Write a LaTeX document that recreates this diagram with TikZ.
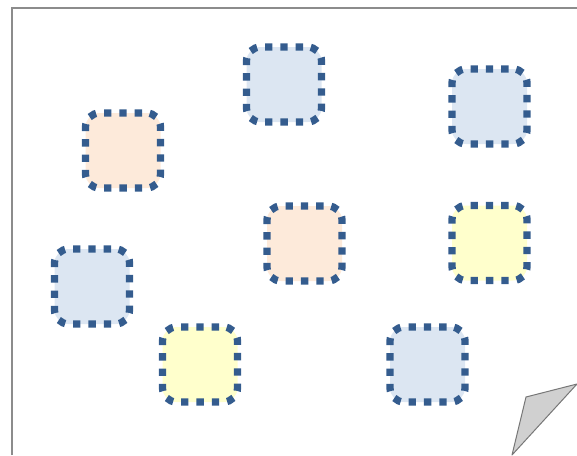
\documentclass[tikz,border=0pt]{standalone}
\usepackage{tikz}
\usetikzlibrary{positioning}
\usepackage{xcolor}
\definecolor{dashblue}{HTML}{345C8E}
\definecolor{tileblue}{HTML}{DCE6F2}
\definecolor{tilepeach}{HTML}{FDEADA}
\definecolor{tileyellow}{HTML}{FFFFCC}
\definecolor{pagegray}{HTML}{8C8C8C}
\definecolor{curlgray}{HTML}{D0D0D0}

\begin{document}
\begin{tikzpicture}[
    x=1pt, y=-1pt,
    tile/.style={draw=dashblue, line width=7.3pt, dash pattern=on 7.3pt off 8.03pt, dash phase=10.83pt, rounded corners=14pt, minimum size=75pt, inner sep=0pt},
    pageline/.style={draw=pagegray, line width=1.3pt},
    curl/.style={draw=pagegray!85!black, fill=curlgray, line width=1pt, line join=round},
]
\useasboundingbox (0,0) rectangle (577,455);

% Page
\draw[pageline] (12,455) -- (12,8) -- (577,8);
\draw[curl] (526,397) -- (577,384) -- (512,455) -- cycle;

% Tiles
\node[tile, fill=tileblue] (t1) at (284,84.5) {};
\node[tile, fill=tileblue] (t2) at (489.5,106.5) {};
\node[tile, fill=tilepeach] (t3) at (123,150.5) {};
\node[tile, fill=tilepeach] (t4) at (304.5,243.5) {};
\node[tile, fill=tileyellow] (t5) at (489.5,243) {};
\node[tile, fill=tileblue] (t6) at (92,286.5) {};
\node[tile, fill=tileyellow] (t7) at (200,364.5) {};
\node[tile, fill=tileblue] (t8) at (427.5,364.5) {};

\end{tikzpicture}
\end{document}
